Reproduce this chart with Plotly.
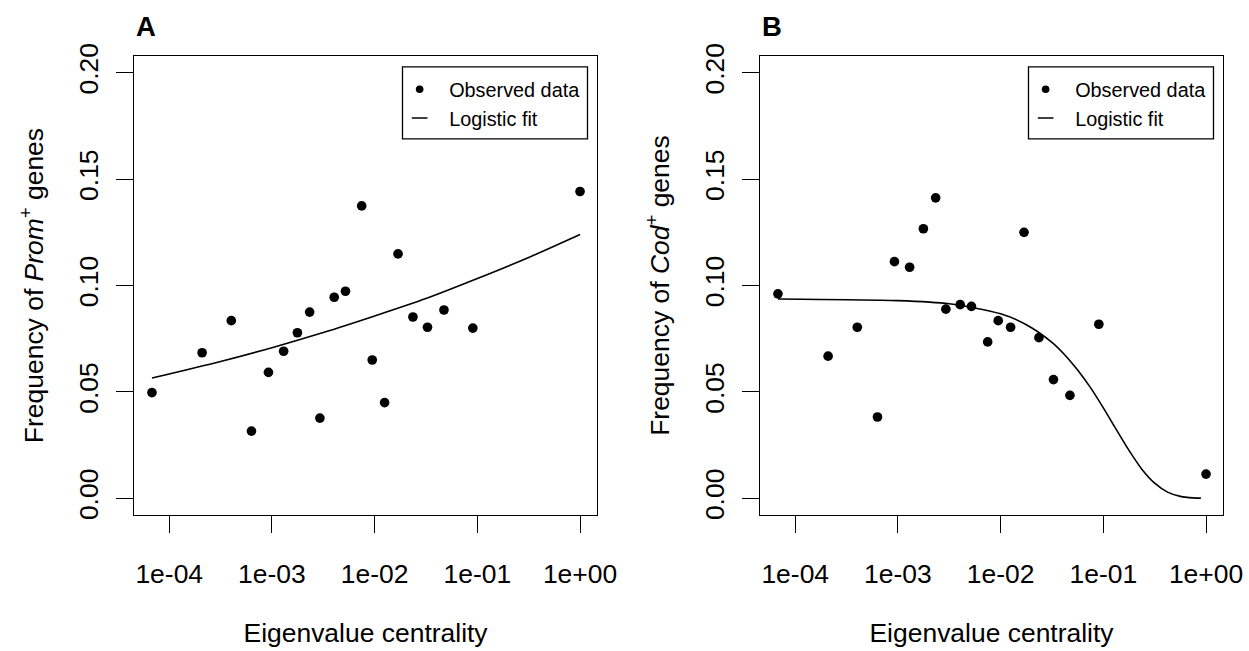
import plotly.graph_objects as go

# Eigenvalue centrality bins (shared by both panels)
centrality = [6.79e-5, 2.09e-4, 4.02e-4, 6.32e-4, 9.25e-4, 1.30e-3, 1.77e-3, 2.33e-3,
              2.93e-3, 4.04e-3, 5.20e-3, 7.48e-3, 9.48e-3, 1.25e-2, 1.69e-2, 2.36e-2,
              3.27e-2, 4.73e-2, 9.04e-2, 1.0]

# Panel A: frequency of Prom+ genes
prom_freq = [0.0497, 0.0684, 0.0835, 0.0316, 0.0592, 0.0691, 0.0778, 0.0875, 0.0377, 0.0945,
             0.0973, 0.1374, 0.0650, 0.0450, 0.1149, 0.0852, 0.0804, 0.0885, 0.0800, 0.1442]
prom_fit_x = [6.79e-5, 3.16e-4, 1e-3, 3.16e-3, 1e-2, 3.16e-2, 0.1, 0.316, 1.0]
prom_fit_y = [0.0565, 0.0643, 0.0708, 0.0779, 0.0857, 0.0939, 0.1033, 0.1132, 0.1240]

# Panel B: frequency of Cod+ genes
cod_freq = [0.0961, 0.0668, 0.0804, 0.0382, 0.1112, 0.1086, 0.1267, 0.1412, 0.0889, 0.0910,
            0.0902, 0.0735, 0.0835, 0.0804, 0.1250, 0.0755, 0.0558, 0.0484, 0.0818, 0.0114]
cod_fit_x = [6.79e-5, 1e-3, 3.16e-3, 0.01, 0.0178, 0.0316, 0.042, 0.0562, 0.075, 0.1, 0.1334,
             0.1778, 0.2371, 0.3162, 0.4217, 0.5623, 0.7499, 0.8913]
cod_fit_y = [0.0937, 0.0929, 0.0914, 0.0867, 0.0816, 0.0733, 0.0675, 0.0603, 0.0520, 0.0425,
             0.0324, 0.0225, 0.0137, 0.0071, 0.0029, 0.0009, 0.0002, 0.0001]

x_tickvals = [1e-4, 1e-3, 1e-2, 1e-1, 1.0]
x_ticktext = ["1e-04", "1e-03", "1e-02", "1e-01", "1e+00"]
y_tickvals = [0.00, 0.05, 0.10, 0.15, 0.20]
y_ticktext = ["0.00", "0.05", "0.10", "0.15", "0.20"]

FONT = "Liberation Sans, Arial, Helvetica, sans-serif"
W, H = 1249, 651
PANEL_SHIFT = 626  # px between panel A and panel B (screen px)

# compensation for how the page is captured (measured scale / offset)
SX, OX = 0.984, 0.8
SY, OY = 0.981, 10.7
S = (SX + SY) / 2


def fx(t):
    """screen x (px) -> paper fraction"""
    return ((t - OX) / SX) / W


def fy(t):
    """screen y (px, from top) -> paper fraction"""
    return 1 - ((t - OY) / SY) / H


def sz(v):
    return v / S


LEG_ITEMW = 49  # legend symbol area width

fig = go.Figure()

panels = [
    dict(xa="x", ya="y", leg="legend", y=prom_freq, fx=prom_fit_x, fy=prom_fit_y),
    dict(xa="x2", ya="y2", leg="legend2", y=cod_freq, fx=cod_fit_x, fy=cod_fit_y),
]
for p in panels:
    fig.add_trace(go.Scatter(x=centrality, y=p["y"], mode="markers", name="Observed data",
                             marker=dict(color="black", size=sz(9.5)), xaxis=p["xa"],
                             yaxis=p["ya"], showlegend=False))
    fig.add_trace(go.Scatter(x=p["fx"], y=p["fy"], mode="lines", name="Logistic fit",
                             line=dict(color="black", width=1.6, shape="spline", smoothing=0.8),
                             xaxis=p["xa"], yaxis=p["ya"], showlegend=False))
    # legend keys (R-style: small dot and short dash)
    fig.add_trace(go.Scatter(x=[None], y=[None], mode="markers", name="Observed data",
                             marker=dict(color="black", size=sz(7.5)), xaxis=p["xa"],
                             yaxis=p["ya"], legend=p["leg"]))
    fig.add_trace(go.Scatter(x=[None], y=[None], mode="markers", name="Logistic fit",
                             marker=dict(symbol="line-ew", size=sz(11), color="black",
                                         line=dict(color="black", width=1.5)),
                             xaxis=p["xa"], yaxis=p["ya"], legend=p["leg"]))

ydom = [fy(517.5), fy(53.8)]
xdomA = [fx(134.7), fx(598.0)]
xdomB = [fx(134.7 + PANEL_SHIFT), fx(598.0 + PANEL_SHIFT)]

tick_font = dict(family=FONT, size=sz(26), color="black")
title_font = dict(family=FONT, size=sz(26), color="black")

common_x = dict(type="log", range=[-4.344, 0.167], tickvals=x_tickvals, ticktext=x_ticktext,
                showgrid=False, zeroline=False, showline=True, mirror=True, linecolor="black",
                linewidth=1.3, ticks="outside", ticklen=sz(16.5), tickwidth=1.3, tickcolor="black",
                tickfont=tick_font, ticklabelstandoff=int(round(sz(18))),
                title=dict(text="Eigenvalue centrality", font=title_font, standoff=sz(34)))
common_y = dict(range=[-0.008, 0.208], tickvals=y_tickvals, ticktext=y_ticktext,
                showgrid=False, zeroline=False, showline=True, mirror=True, linecolor="black",
                linewidth=1.3, ticks="outside", ticklen=sz(16.5), tickwidth=1.3, tickcolor="black",
                tickangle=-90, tickfont=tick_font, ticklabelstandoff=int(round(sz(7))))

legend_common = dict(borderwidth=0, bgcolor="rgba(0,0,0,0)",
                     font=dict(family=FONT, size=sz(19.5), color="black"),
                     xanchor="left", yanchor="top", itemwidth=LEG_ITEMW, tracegroupgap=0)

# legend frames
shapes = []
for dx in (0, PANEL_SHIFT):
    shapes.append(dict(type="rect", xref="paper", yref="paper",
                       x0=fx(403.3 + dx), x1=fx(588.3 + dx),
                       y0=fy(137.7), y1=fy(65.0),
                       line=dict(color="black", width=1.3), fillcolor="white", layer="above"))

leg_x = 449 - (LEG_ITEMW + 10) * SX  # so that the legend text starts at x = 449

fig.update_layout(
    width=W, height=H,
    margin=dict(l=0, r=0, t=0, b=0),
    paper_bgcolor="white", plot_bgcolor="white",
    font=dict(family=FONT, color="black"),
    xaxis=dict(domain=xdomA, anchor="y", **common_x),
    yaxis=dict(domain=ydom, anchor="x", **common_y,
               title=dict(text="Frequency of <i>Prom</i><sup>+</sup> genes",
                          font=title_font, standoff=sz(22))),
    xaxis2=dict(domain=xdomB, anchor="y2", **common_x),
    yaxis2=dict(domain=ydom, anchor="x2", **common_y,
                title=dict(text="Frequency of <i>Cod</i><sup>+</sup> genes",
                           font=title_font, standoff=sz(22))),
    legend=dict(x=fx(leg_x), y=fy(68), **legend_common),
    legend2=dict(x=fx(leg_x + PANEL_SHIFT), y=fy(68), **legend_common),
    shapes=shapes,
    annotations=[
        dict(text="<b>A</b>", x=fx(134.5), y=fy(24.5), xref="paper", yref="paper",
             xanchor="left", yanchor="middle", showarrow=False,
             font=dict(family=FONT, size=sz(27), color="black")),
        dict(text="<b>B</b>", x=fx(134.5 + PANEL_SHIFT), y=fy(24.5), xref="paper", yref="paper",
             xanchor="left", yanchor="middle", showarrow=False,
             font=dict(family=FONT, size=sz(27), color="black")),
    ],
)

fig.write_html("out.html", config={"displayModeBar": False},
               post_script="document.body.style.margin='0px';")
